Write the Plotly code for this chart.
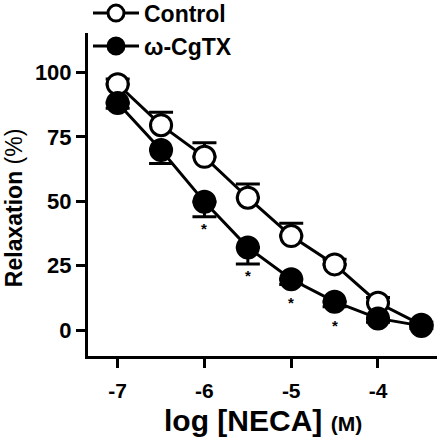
import plotly.graph_objects as go

# ---- data ----
log_neca = [-7, -6.5, -6, -5.5, -5, -4.5, -4, -3.5]
control = [95.5, 79.6, 67.3, 51.4, 36.5, 25.5, 10.6, 2.0]
control_err = [2.0, 5.0, 5.5, 5.3, 5.0, 2.0, 2.0, 1.0]
cgtx = [88.2, 69.9, 49.8, 32.1, 19.7, 11.0, 4.5, 1.6]
cgtx_err = [2.0, 5.2, 5.8, 6.5, 2.0, 2.0, 1.5, 1.0]
significant = [False, False, True, True, True, True, False, False]

x_tickvals = [-7, -6, -5, -4]
x_ticktext = ["-7", "-6", "-5", "-4"]
y_tickvals = [0, 25, 50, 75, 100]
y_ticktext = ["0", "25", "50", "75", "100"]

FONT = "Liberation Sans, Arial, sans-serif"
MARKER_SIZE = 21
zeros = [0] * len(log_neca)

fig = go.Figure()
fig.add_trace(go.Scatter(
    x=log_neca, y=control, name="Control", mode="lines+markers",
    line=dict(color="black", width=3),
    marker=dict(symbol="circle", size=MARKER_SIZE, color="white",
                line=dict(color="black", width=3)),
    error_y=dict(type="data", symmetric=False, array=control_err,
                 arrayminus=zeros, color="black", thickness=3, width=12),
))
fig.add_trace(go.Scatter(
    x=log_neca, y=cgtx, name="ω-CgTX", mode="lines+markers",
    line=dict(color="black", width=3),
    marker=dict(symbol="circle", size=MARKER_SIZE, color="black",
                line=dict(color="black", width=3)),
    error_y=dict(type="data", symmetric=False, array=zeros,
                 arrayminus=cgtx_err, color="black", thickness=3, width=12),
))

# significance stars below the ω-CgTX points
marker_r_units = 4.7
for xv, yv, ev, sig in zip(log_neca, cgtx, cgtx_err, significant):
    if sig:
        fig.add_annotation(x=xv, y=yv - max(ev, marker_r_units), xref="x", yref="y",
                           text="<b>*</b>", showarrow=False, yanchor="top",
                           yshift=-1, font=dict(family=FONT, size=15, color="black"))

# axis titles as annotations
fig.add_annotation(xref="paper", yref="paper", x=0.5, y=-0.2, xanchor="center",
                   yanchor="middle", showarrow=False,
                   text="<b>log [NECA]</b> <b><span style='font-size:21px'>(M)</span></b>",
                   font=dict(family=FONT, size=30, color="black"))
fig.add_annotation(xref="paper", yref="paper", x=-0.21, y=0.46, xanchor="center",
                   yanchor="middle", showarrow=False, textangle=-90,
                   text="<b>Relaxation</b> (%)",
                   font=dict(family=FONT, size=23, color="black"))

fig.update_xaxes(range=[-7.342, -3.32], tickvals=x_tickvals, ticktext=x_ticktext,
                 showgrid=False, zeroline=False, showline=True, linecolor="black",
                 linewidth=3, ticks="outside", ticklen=9, tickwidth=3, tickcolor="black",
                 tickfont=dict(family=FONT, size=21, color="black", weight="bold"),
                 ticklabelstandoff=5)
fig.update_yaxes(range=[-10.1, 115.4], tickvals=y_tickvals, ticktext=y_ticktext,
                 showgrid=False, zeroline=False, showline=True, linecolor="black",
                 linewidth=3, ticks="outside", ticklen=9, tickwidth=3, tickcolor="black",
                 tickfont=dict(family=FONT, size=22, color="black", weight="bold"))

fig.update_layout(
    width=437, height=438,
    margin=dict(l=88, r=0, t=33, b=82, autoexpand=False),
    plot_bgcolor="white", paper_bgcolor="white",
    showlegend=True,
    legend=dict(x=0.0, y=1.128, xanchor="left", yanchor="top", itemwidth=46,
                font=dict(family=FONT, size=23, color="black", weight="bold"),
                bgcolor="rgba(0,0,0,0)"),
)

fig.write_html("out.html", config={"displayModeBar": False},
               post_script="document.body.style.margin='0px';")
